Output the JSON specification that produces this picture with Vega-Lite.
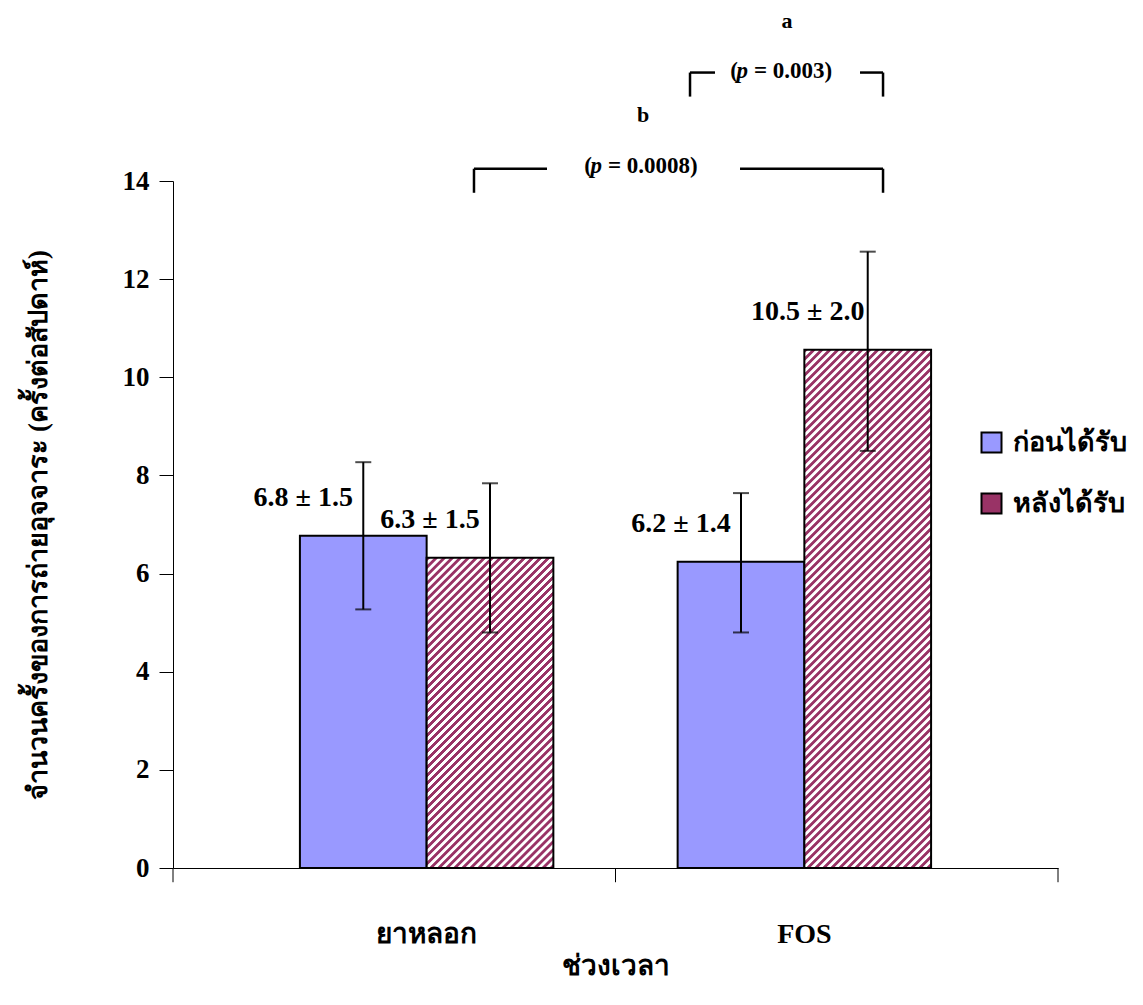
{
"$schema":"https://vega.github.io/schema/vega-lite/v6.json",
"width":885,"height":687,
"autosize":"none",
"padding":{"left":173,"top":181,"right":85,"bottom":137},
"background":"white",
"config":{"font":"Liberation Serif, Norasi, Kinnari, serif","view":{"stroke":null},
"axis":{"domainColor":"black","tickColor":"black","labelColor":"black","titleColor":"black","labelFont":"Liberation Serif, Norasi, Kinnari, serif","titleFont":"Liberation Serif, Norasi, Kinnari, serif","labelFontWeight":"bold","titleFontWeight":"bold","grid":false}},
"datasets":{
"bars":[
{"group":"ยาหลอก","series":"ก่อนได้รับ","mean":6.77,"lo":5.27,"hi":8.27,"label":"6.8 ± 1.5"},
{"group":"ยาหลอก","series":"หลังได้รับ","mean":6.32,"lo":4.8,"hi":7.84,"label":"6.3 ± 1.5"},
{"group":"FOS","series":"ก่อนได้รับ","mean":6.24,"lo":4.8,"hi":7.64,"label":"6.2 ± 1.4"},
{"group":"FOS","series":"หลังได้รับ","mean":10.56,"lo":8.5,"hi":12.56,"label":"10.5 ± 2.0"}
],
"brackets":[
{"x":58.42,"x2":61.24,"y":16.21,"y2":16.21},
{"x":58.42,"x2":58.42,"y":16.21,"y2":15.72},
{"x":77.63,"x2":80.23,"y":16.21,"y2":16.21},
{"x":80.23,"x2":80.23,"y":16.21,"y2":15.72},
{"x":34.01,"x2":42.26,"y":14.25,"y2":14.25},
{"x":34.01,"x2":34.01,"y":14.25,"y2":13.76},
{"x":64.07,"x2":80.23,"y":14.25,"y2":14.25},
{"x":80.23,"x2":80.23,"y":14.25,"y2":13.76}
],
"xticks":[{"x":0,"y":0,"y2":-0.29},{"x":50,"y":0,"y2":-0.29},{"x":100,"y":0,"y2":-0.29}],
"letters":[{"x":69.38,"y":17.12,"t":"a"},{"x":53.11,"y":15.21,"t":"b"}],
"pvals":[{"x":64.97,"y":16.1,"rest":"= 0.003)"},{"x":48.47,"y":14.17,"rest":"= 0.0008)"}]
},
"layer":[
{"data":{"name":"bars"},
"encoding":{
"x":{"field":"group","type":"nominal","sort":["ยาหลอก","FOS"],"scale":{"type":"band","paddingInner":0.329,"paddingOuter":0.336},
"axis":{"title":"ช่วงเวลา","ticks":false,"labelAngle":0,"labelFontSize":28,"labelPadding":52,"titleFontSize":28,"titlePadding":4,"domainWidth":1}},
"xOffset":{"field":"series","type":"nominal","sort":["ก่อนได้รับ","หลังได้รับ"]}
},
"layer":[
{"mark":{"type":"bar","stroke":"black","strokeWidth":2},
"encoding":{
"y":{"field":"mean","type":"quantitative","scale":{"domain":[0,14]},"title":"จำนวนครั้งของการถ่ายอุจจาระ (ครั้งต่อสัปดาห์)",
"axis":{"title":"จำนวนครั้งของการถ่ายอุจจาระ (ครั้งต่อสัปดาห์)","values":[0,2,4,6,8,10,12,14],"tickSize":14,"labelFontSize":27,"labelPadding":10,"titleFontSize":27,"titlePadding":70,"domainWidth":1,"tickWidth":1}},
"fill":{"field":"series","type":"nominal","scale":{"domain":["ก่อนได้รับ","หลังได้รับ"],"range":["#9999FF","#993366"]},
"legend":{"title":null,"orient":"none","legendX":805,"legendY":248,"symbolType":"square","symbolSize":400,"symbolStrokeColor":"black","symbolStrokeWidth":2,"symbolOpacity":1,"labelFontSize":27,"labelFontWeight":"bold","labelFont":"Liberation Serif, Norasi, Kinnari, serif","labelOffset":8,"rowPadding":32,"labelColor":"black"},
"condition":[
{"test":"datum.series === 'หลังได้รับ' && datum.group === 'ยาหลอก'","value":{"gradient":"linear","x1":0,"y1":0,"x2":0.9053,"y2":2.215,"stops":[
{"offset":0.00,"color":"#936"},{"offset":0.004,"color":"#936"},{"offset":0.005,"color":"#fff"},{"offset":0.009,"color":"#fff"},
{"offset":0.01,"color":"#936"},{"offset":0.014,"color":"#936"},{"offset":0.015,"color":"#fff"},{"offset":0.019,"color":"#fff"},
{"offset":0.02,"color":"#936"},{"offset":0.024,"color":"#936"},{"offset":0.025,"color":"#fff"},{"offset":0.029,"color":"#fff"},
{"offset":0.03,"color":"#936"},{"offset":0.034,"color":"#936"},{"offset":0.035,"color":"#fff"},{"offset":0.039,"color":"#fff"},
{"offset":0.04,"color":"#936"},{"offset":0.044,"color":"#936"},{"offset":0.045,"color":"#fff"},{"offset":0.049,"color":"#fff"},
{"offset":0.05,"color":"#936"},{"offset":0.054,"color":"#936"},{"offset":0.055,"color":"#fff"},{"offset":0.059,"color":"#fff"},
{"offset":0.06,"color":"#936"},{"offset":0.064,"color":"#936"},{"offset":0.065,"color":"#fff"},{"offset":0.069,"color":"#fff"},
{"offset":0.07,"color":"#936"},{"offset":0.074,"color":"#936"},{"offset":0.075,"color":"#fff"},{"offset":0.079,"color":"#fff"},
{"offset":0.08,"color":"#936"},{"offset":0.084,"color":"#936"},{"offset":0.085,"color":"#fff"},{"offset":0.089,"color":"#fff"},
{"offset":0.09,"color":"#936"},{"offset":0.094,"color":"#936"},{"offset":0.095,"color":"#fff"},{"offset":0.099,"color":"#fff"},
{"offset":0.10,"color":"#936"},{"offset":0.104,"color":"#936"},{"offset":0.105,"color":"#fff"},{"offset":0.109,"color":"#fff"},
{"offset":0.11,"color":"#936"},{"offset":0.114,"color":"#936"},{"offset":0.115,"color":"#fff"},{"offset":0.119,"color":"#fff"},
{"offset":0.12,"color":"#936"},{"offset":0.124,"color":"#936"},{"offset":0.125,"color":"#fff"},{"offset":0.129,"color":"#fff"},
{"offset":0.13,"color":"#936"},{"offset":0.134,"color":"#936"},{"offset":0.135,"color":"#fff"},{"offset":0.139,"color":"#fff"},
{"offset":0.14,"color":"#936"},{"offset":0.144,"color":"#936"},{"offset":0.145,"color":"#fff"},{"offset":0.149,"color":"#fff"},
{"offset":0.15,"color":"#936"},{"offset":0.154,"color":"#936"},{"offset":0.155,"color":"#fff"},{"offset":0.159,"color":"#fff"},
{"offset":0.16,"color":"#936"},{"offset":0.164,"color":"#936"},{"offset":0.165,"color":"#fff"},{"offset":0.169,"color":"#fff"},
{"offset":0.17,"color":"#936"},{"offset":0.174,"color":"#936"},{"offset":0.175,"color":"#fff"},{"offset":0.179,"color":"#fff"},
{"offset":0.18,"color":"#936"},{"offset":0.184,"color":"#936"},{"offset":0.185,"color":"#fff"},{"offset":0.189,"color":"#fff"},
{"offset":0.19,"color":"#936"},{"offset":0.194,"color":"#936"},{"offset":0.195,"color":"#fff"},{"offset":0.199,"color":"#fff"},
{"offset":0.20,"color":"#936"},{"offset":0.204,"color":"#936"},{"offset":0.205,"color":"#fff"},{"offset":0.209,"color":"#fff"},
{"offset":0.21,"color":"#936"},{"offset":0.214,"color":"#936"},{"offset":0.215,"color":"#fff"},{"offset":0.219,"color":"#fff"},
{"offset":0.22,"color":"#936"},{"offset":0.224,"color":"#936"},{"offset":0.225,"color":"#fff"},{"offset":0.229,"color":"#fff"},
{"offset":0.23,"color":"#936"},{"offset":0.234,"color":"#936"},{"offset":0.235,"color":"#fff"},{"offset":0.239,"color":"#fff"},
{"offset":0.24,"color":"#936"},{"offset":0.244,"color":"#936"},{"offset":0.245,"color":"#fff"},{"offset":0.249,"color":"#fff"},
{"offset":0.25,"color":"#936"},{"offset":0.254,"color":"#936"},{"offset":0.255,"color":"#fff"},{"offset":0.259,"color":"#fff"},
{"offset":0.26,"color":"#936"},{"offset":0.264,"color":"#936"},{"offset":0.265,"color":"#fff"},{"offset":0.269,"color":"#fff"},
{"offset":0.27,"color":"#936"},{"offset":0.274,"color":"#936"},{"offset":0.275,"color":"#fff"},{"offset":0.279,"color":"#fff"},
{"offset":0.28,"color":"#936"},{"offset":0.284,"color":"#936"},{"offset":0.285,"color":"#fff"},{"offset":0.289,"color":"#fff"},
{"offset":0.29,"color":"#936"},{"offset":0.294,"color":"#936"},{"offset":0.295,"color":"#fff"},{"offset":0.299,"color":"#fff"},
{"offset":0.30,"color":"#936"},{"offset":0.304,"color":"#936"},{"offset":0.305,"color":"#fff"},{"offset":0.309,"color":"#fff"},
{"offset":0.31,"color":"#936"},{"offset":0.314,"color":"#936"},{"offset":0.315,"color":"#fff"},{"offset":0.319,"color":"#fff"},
{"offset":0.32,"color":"#936"},{"offset":0.324,"color":"#936"},{"offset":0.325,"color":"#fff"},{"offset":0.329,"color":"#fff"},
{"offset":0.33,"color":"#936"},{"offset":0.334,"color":"#936"},{"offset":0.335,"color":"#fff"},{"offset":0.339,"color":"#fff"},
{"offset":0.34,"color":"#936"},{"offset":0.344,"color":"#936"},{"offset":0.345,"color":"#fff"},{"offset":0.349,"color":"#fff"},
{"offset":0.35,"color":"#936"},{"offset":0.354,"color":"#936"},{"offset":0.355,"color":"#fff"},{"offset":0.359,"color":"#fff"},
{"offset":0.36,"color":"#936"},{"offset":0.364,"color":"#936"},{"offset":0.365,"color":"#fff"},{"offset":0.369,"color":"#fff"},
{"offset":0.37,"color":"#936"},{"offset":0.374,"color":"#936"},{"offset":0.375,"color":"#fff"},{"offset":0.379,"color":"#fff"},
{"offset":0.38,"color":"#936"},{"offset":0.384,"color":"#936"},{"offset":0.385,"color":"#fff"},{"offset":0.389,"color":"#fff"},
{"offset":0.39,"color":"#936"},{"offset":0.394,"color":"#936"},{"offset":0.395,"color":"#fff"},{"offset":0.399,"color":"#fff"},
{"offset":0.40,"color":"#936"},{"offset":0.404,"color":"#936"},{"offset":0.405,"color":"#fff"},{"offset":0.409,"color":"#fff"},
{"offset":0.41,"color":"#936"},{"offset":0.414,"color":"#936"},{"offset":0.415,"color":"#fff"},{"offset":0.419,"color":"#fff"},
{"offset":0.42,"color":"#936"},{"offset":0.424,"color":"#936"},{"offset":0.425,"color":"#fff"},{"offset":0.429,"color":"#fff"},
{"offset":0.43,"color":"#936"},{"offset":0.434,"color":"#936"},{"offset":0.435,"color":"#fff"},{"offset":0.439,"color":"#fff"},
{"offset":0.44,"color":"#936"},{"offset":0.444,"color":"#936"},{"offset":0.445,"color":"#fff"},{"offset":0.449,"color":"#fff"},
{"offset":0.45,"color":"#936"},{"offset":0.454,"color":"#936"},{"offset":0.455,"color":"#fff"},{"offset":0.459,"color":"#fff"},
{"offset":0.46,"color":"#936"},{"offset":0.464,"color":"#936"},{"offset":0.465,"color":"#fff"},{"offset":0.469,"color":"#fff"},
{"offset":0.47,"color":"#936"},{"offset":0.474,"color":"#936"},{"offset":0.475,"color":"#fff"},{"offset":0.479,"color":"#fff"},
{"offset":0.48,"color":"#936"},{"offset":0.484,"color":"#936"},{"offset":0.485,"color":"#fff"},{"offset":0.489,"color":"#fff"},
{"offset":0.49,"color":"#936"},{"offset":0.494,"color":"#936"},{"offset":0.495,"color":"#fff"},{"offset":0.499,"color":"#fff"},
{"offset":0.50,"color":"#936"},{"offset":0.504,"color":"#936"},{"offset":0.505,"color":"#fff"},{"offset":0.509,"color":"#fff"},
{"offset":0.51,"color":"#936"},{"offset":0.514,"color":"#936"},{"offset":0.515,"color":"#fff"},{"offset":0.519,"color":"#fff"},
{"offset":0.52,"color":"#936"},{"offset":0.524,"color":"#936"},{"offset":0.525,"color":"#fff"},{"offset":0.529,"color":"#fff"},
{"offset":0.53,"color":"#936"},{"offset":0.534,"color":"#936"},{"offset":0.535,"color":"#fff"},{"offset":0.539,"color":"#fff"},
{"offset":0.54,"color":"#936"},{"offset":0.544,"color":"#936"},{"offset":0.545,"color":"#fff"},{"offset":0.549,"color":"#fff"},
{"offset":0.55,"color":"#936"}
]}},
{"test":"datum.series === 'หลังได้รับ' && datum.group === 'FOS'","value":{"gradient":"linear","x1":0,"y1":0,"x2":0.3563,"y2":1.4567,"stops":[
{"offset":0.00,"color":"#936"},{"offset":0.004,"color":"#936"},{"offset":0.005,"color":"#fff"},{"offset":0.009,"color":"#fff"},
{"offset":0.01,"color":"#936"},{"offset":0.014,"color":"#936"},{"offset":0.015,"color":"#fff"},{"offset":0.019,"color":"#fff"},
{"offset":0.02,"color":"#936"},{"offset":0.024,"color":"#936"},{"offset":0.025,"color":"#fff"},{"offset":0.029,"color":"#fff"},
{"offset":0.03,"color":"#936"},{"offset":0.034,"color":"#936"},{"offset":0.035,"color":"#fff"},{"offset":0.039,"color":"#fff"},
{"offset":0.04,"color":"#936"},{"offset":0.044,"color":"#936"},{"offset":0.045,"color":"#fff"},{"offset":0.049,"color":"#fff"},
{"offset":0.05,"color":"#936"},{"offset":0.054,"color":"#936"},{"offset":0.055,"color":"#fff"},{"offset":0.059,"color":"#fff"},
{"offset":0.06,"color":"#936"},{"offset":0.064,"color":"#936"},{"offset":0.065,"color":"#fff"},{"offset":0.069,"color":"#fff"},
{"offset":0.07,"color":"#936"},{"offset":0.074,"color":"#936"},{"offset":0.075,"color":"#fff"},{"offset":0.079,"color":"#fff"},
{"offset":0.08,"color":"#936"},{"offset":0.084,"color":"#936"},{"offset":0.085,"color":"#fff"},{"offset":0.089,"color":"#fff"},
{"offset":0.09,"color":"#936"},{"offset":0.094,"color":"#936"},{"offset":0.095,"color":"#fff"},{"offset":0.099,"color":"#fff"},
{"offset":0.10,"color":"#936"},{"offset":0.104,"color":"#936"},{"offset":0.105,"color":"#fff"},{"offset":0.109,"color":"#fff"},
{"offset":0.11,"color":"#936"},{"offset":0.114,"color":"#936"},{"offset":0.115,"color":"#fff"},{"offset":0.119,"color":"#fff"},
{"offset":0.12,"color":"#936"},{"offset":0.124,"color":"#936"},{"offset":0.125,"color":"#fff"},{"offset":0.129,"color":"#fff"},
{"offset":0.13,"color":"#936"},{"offset":0.134,"color":"#936"},{"offset":0.135,"color":"#fff"},{"offset":0.139,"color":"#fff"},
{"offset":0.14,"color":"#936"},{"offset":0.144,"color":"#936"},{"offset":0.145,"color":"#fff"},{"offset":0.149,"color":"#fff"},
{"offset":0.15,"color":"#936"},{"offset":0.154,"color":"#936"},{"offset":0.155,"color":"#fff"},{"offset":0.159,"color":"#fff"},
{"offset":0.16,"color":"#936"},{"offset":0.164,"color":"#936"},{"offset":0.165,"color":"#fff"},{"offset":0.169,"color":"#fff"},
{"offset":0.17,"color":"#936"},{"offset":0.174,"color":"#936"},{"offset":0.175,"color":"#fff"},{"offset":0.179,"color":"#fff"},
{"offset":0.18,"color":"#936"},{"offset":0.184,"color":"#936"},{"offset":0.185,"color":"#fff"},{"offset":0.189,"color":"#fff"},
{"offset":0.19,"color":"#936"},{"offset":0.194,"color":"#936"},{"offset":0.195,"color":"#fff"},{"offset":0.199,"color":"#fff"},
{"offset":0.20,"color":"#936"},{"offset":0.204,"color":"#936"},{"offset":0.205,"color":"#fff"},{"offset":0.209,"color":"#fff"},
{"offset":0.21,"color":"#936"},{"offset":0.214,"color":"#936"},{"offset":0.215,"color":"#fff"},{"offset":0.219,"color":"#fff"},
{"offset":0.22,"color":"#936"},{"offset":0.224,"color":"#936"},{"offset":0.225,"color":"#fff"},{"offset":0.229,"color":"#fff"},
{"offset":0.23,"color":"#936"},{"offset":0.234,"color":"#936"},{"offset":0.235,"color":"#fff"},{"offset":0.239,"color":"#fff"},
{"offset":0.24,"color":"#936"},{"offset":0.244,"color":"#936"},{"offset":0.245,"color":"#fff"},{"offset":0.249,"color":"#fff"},
{"offset":0.25,"color":"#936"},{"offset":0.254,"color":"#936"},{"offset":0.255,"color":"#fff"},{"offset":0.259,"color":"#fff"},
{"offset":0.26,"color":"#936"},{"offset":0.264,"color":"#936"},{"offset":0.265,"color":"#fff"},{"offset":0.269,"color":"#fff"},
{"offset":0.27,"color":"#936"},{"offset":0.274,"color":"#936"},{"offset":0.275,"color":"#fff"},{"offset":0.279,"color":"#fff"},
{"offset":0.28,"color":"#936"},{"offset":0.284,"color":"#936"},{"offset":0.285,"color":"#fff"},{"offset":0.289,"color":"#fff"},
{"offset":0.29,"color":"#936"},{"offset":0.294,"color":"#936"},{"offset":0.295,"color":"#fff"},{"offset":0.299,"color":"#fff"},
{"offset":0.30,"color":"#936"},{"offset":0.304,"color":"#936"},{"offset":0.305,"color":"#fff"},{"offset":0.309,"color":"#fff"},
{"offset":0.31,"color":"#936"},{"offset":0.314,"color":"#936"},{"offset":0.315,"color":"#fff"},{"offset":0.319,"color":"#fff"},
{"offset":0.32,"color":"#936"},{"offset":0.324,"color":"#936"},{"offset":0.325,"color":"#fff"},{"offset":0.329,"color":"#fff"},
{"offset":0.33,"color":"#936"},{"offset":0.334,"color":"#936"},{"offset":0.335,"color":"#fff"},{"offset":0.339,"color":"#fff"},
{"offset":0.34,"color":"#936"},{"offset":0.344,"color":"#936"},{"offset":0.345,"color":"#fff"},{"offset":0.349,"color":"#fff"},
{"offset":0.35,"color":"#936"},{"offset":0.354,"color":"#936"},{"offset":0.355,"color":"#fff"},{"offset":0.359,"color":"#fff"},
{"offset":0.36,"color":"#936"},{"offset":0.364,"color":"#936"},{"offset":0.365,"color":"#fff"},{"offset":0.369,"color":"#fff"},
{"offset":0.37,"color":"#936"},{"offset":0.374,"color":"#936"},{"offset":0.375,"color":"#fff"},{"offset":0.379,"color":"#fff"},
{"offset":0.38,"color":"#936"},{"offset":0.384,"color":"#936"},{"offset":0.385,"color":"#fff"},{"offset":0.389,"color":"#fff"},
{"offset":0.39,"color":"#936"},{"offset":0.394,"color":"#936"},{"offset":0.395,"color":"#fff"},{"offset":0.399,"color":"#fff"},
{"offset":0.40,"color":"#936"},{"offset":0.404,"color":"#936"},{"offset":0.405,"color":"#fff"},{"offset":0.409,"color":"#fff"},
{"offset":0.41,"color":"#936"},{"offset":0.414,"color":"#936"},{"offset":0.415,"color":"#fff"},{"offset":0.419,"color":"#fff"},
{"offset":0.42,"color":"#936"},{"offset":0.424,"color":"#936"},{"offset":0.425,"color":"#fff"},{"offset":0.429,"color":"#fff"},
{"offset":0.43,"color":"#936"},{"offset":0.434,"color":"#936"},{"offset":0.435,"color":"#fff"},{"offset":0.439,"color":"#fff"},
{"offset":0.44,"color":"#936"},{"offset":0.444,"color":"#936"},{"offset":0.445,"color":"#fff"},{"offset":0.449,"color":"#fff"},
{"offset":0.45,"color":"#936"},{"offset":0.454,"color":"#936"},{"offset":0.455,"color":"#fff"},{"offset":0.459,"color":"#fff"},
{"offset":0.46,"color":"#936"},{"offset":0.464,"color":"#936"},{"offset":0.465,"color":"#fff"},{"offset":0.469,"color":"#fff"},
{"offset":0.47,"color":"#936"},{"offset":0.474,"color":"#936"},{"offset":0.475,"color":"#fff"},{"offset":0.479,"color":"#fff"},
{"offset":0.48,"color":"#936"},{"offset":0.484,"color":"#936"},{"offset":0.485,"color":"#fff"},{"offset":0.489,"color":"#fff"},
{"offset":0.49,"color":"#936"},{"offset":0.494,"color":"#936"},{"offset":0.495,"color":"#fff"},{"offset":0.499,"color":"#fff"},
{"offset":0.50,"color":"#936"},{"offset":0.504,"color":"#936"},{"offset":0.505,"color":"#fff"},{"offset":0.509,"color":"#fff"},
{"offset":0.51,"color":"#936"},{"offset":0.514,"color":"#936"},{"offset":0.515,"color":"#fff"},{"offset":0.519,"color":"#fff"},
{"offset":0.52,"color":"#936"},{"offset":0.524,"color":"#936"},{"offset":0.525,"color":"#fff"},{"offset":0.529,"color":"#fff"},
{"offset":0.53,"color":"#936"},{"offset":0.534,"color":"#936"},{"offset":0.535,"color":"#fff"},{"offset":0.539,"color":"#fff"},
{"offset":0.54,"color":"#936"},{"offset":0.544,"color":"#936"},{"offset":0.545,"color":"#fff"},{"offset":0.549,"color":"#fff"},
{"offset":0.55,"color":"#936"},{"offset":0.554,"color":"#936"},{"offset":0.555,"color":"#fff"},{"offset":0.559,"color":"#fff"},
{"offset":0.56,"color":"#936"},{"offset":0.564,"color":"#936"},{"offset":0.565,"color":"#fff"},{"offset":0.569,"color":"#fff"},
{"offset":0.57,"color":"#936"},{"offset":0.574,"color":"#936"},{"offset":0.575,"color":"#fff"},{"offset":0.579,"color":"#fff"},
{"offset":0.58,"color":"#936"},{"offset":0.584,"color":"#936"},{"offset":0.585,"color":"#fff"},{"offset":0.589,"color":"#fff"},
{"offset":0.59,"color":"#936"},{"offset":0.594,"color":"#936"},{"offset":0.595,"color":"#fff"},{"offset":0.599,"color":"#fff"},
{"offset":0.60,"color":"#936"},{"offset":0.604,"color":"#936"},{"offset":0.605,"color":"#fff"},{"offset":0.609,"color":"#fff"},
{"offset":0.61,"color":"#936"},{"offset":0.614,"color":"#936"},{"offset":0.615,"color":"#fff"},{"offset":0.619,"color":"#fff"},
{"offset":0.62,"color":"#936"},{"offset":0.624,"color":"#936"},{"offset":0.625,"color":"#fff"},{"offset":0.629,"color":"#fff"},
{"offset":0.63,"color":"#936"},{"offset":0.634,"color":"#936"},{"offset":0.635,"color":"#fff"},{"offset":0.639,"color":"#fff"},
{"offset":0.64,"color":"#936"},{"offset":0.644,"color":"#936"},{"offset":0.645,"color":"#fff"},{"offset":0.649,"color":"#fff"},
{"offset":0.65,"color":"#936"},{"offset":0.654,"color":"#936"},{"offset":0.655,"color":"#fff"},{"offset":0.659,"color":"#fff"},
{"offset":0.66,"color":"#936"},{"offset":0.664,"color":"#936"},{"offset":0.665,"color":"#fff"},{"offset":0.669,"color":"#fff"},
{"offset":0.67,"color":"#936"},{"offset":0.674,"color":"#936"},{"offset":0.675,"color":"#fff"},{"offset":0.679,"color":"#fff"},
{"offset":0.68,"color":"#936"},{"offset":0.684,"color":"#936"},{"offset":0.685,"color":"#fff"},{"offset":0.689,"color":"#fff"},
{"offset":0.69,"color":"#936"},{"offset":0.694,"color":"#936"},{"offset":0.695,"color":"#fff"},{"offset":0.699,"color":"#fff"},
{"offset":0.70,"color":"#936"},{"offset":0.704,"color":"#936"},{"offset":0.705,"color":"#fff"},{"offset":0.709,"color":"#fff"},
{"offset":0.71,"color":"#936"},{"offset":0.714,"color":"#936"},{"offset":0.715,"color":"#fff"},{"offset":0.719,"color":"#fff"},
{"offset":0.72,"color":"#936"},{"offset":0.724,"color":"#936"},{"offset":0.725,"color":"#fff"},{"offset":0.729,"color":"#fff"},
{"offset":0.73,"color":"#936"},{"offset":0.734,"color":"#936"},{"offset":0.735,"color":"#fff"},{"offset":0.739,"color":"#fff"},
{"offset":0.74,"color":"#936"},{"offset":0.744,"color":"#936"},{"offset":0.745,"color":"#fff"},{"offset":0.749,"color":"#fff"},
{"offset":0.75,"color":"#936"},{"offset":0.754,"color":"#936"},{"offset":0.755,"color":"#fff"},{"offset":0.759,"color":"#fff"},
{"offset":0.76,"color":"#936"},{"offset":0.764,"color":"#936"},{"offset":0.765,"color":"#fff"},{"offset":0.769,"color":"#fff"},
{"offset":0.77,"color":"#936"},{"offset":0.774,"color":"#936"},{"offset":0.775,"color":"#fff"},{"offset":0.779,"color":"#fff"},
{"offset":0.78,"color":"#936"},{"offset":0.784,"color":"#936"},{"offset":0.785,"color":"#fff"},{"offset":0.789,"color":"#fff"},
{"offset":0.79,"color":"#936"},{"offset":0.794,"color":"#936"},{"offset":0.795,"color":"#fff"},{"offset":0.799,"color":"#fff"},
{"offset":0.80,"color":"#936"},{"offset":0.804,"color":"#936"},{"offset":0.805,"color":"#fff"},{"offset":0.809,"color":"#fff"},
{"offset":0.81,"color":"#936"}
]}}
]}
}},
{"mark":{"type":"rule","strokeWidth":2,"color":"black"},
"encoding":{"y":{"field":"lo","type":"quantitative","scale":{"domain":[0,14]},"title":"จำนวนครั้งของการถ่ายอุจจาระ (ครั้งต่อสัปดาห์)"},"y2":{"field":"hi"}}},
{"mark":{"type":"tick","size":16,"thickness":2,"color":"black","orient":"horizontal"},
"encoding":{"y":{"field":"lo","type":"quantitative","scale":{"domain":[0,14]},"title":"จำนวนครั้งของการถ่ายอุจจาระ (ครั้งต่อสัปดาห์)"}}},
{"mark":{"type":"tick","size":16,"thickness":2,"color":"black","orient":"horizontal"},
"encoding":{"y":{"field":"hi","type":"quantitative","scale":{"domain":[0,14]},"title":"จำนวนครั้งของการถ่ายอุจจาระ (ครั้งต่อสัปดาห์)"}}},
{"mark":{"type":"text","font":"Liberation Serif","fontSize":28,"fontWeight":"bold","dx":-60,"dy":-38,"color":"black","baseline":"middle"},
"encoding":{"y":{"field":"mean","type":"quantitative","scale":{"domain":[0,14]},"title":"จำนวนครั้งของการถ่ายอุจจาระ (ครั้งต่อสัปดาห์)"},"text":{"field":"label"}}}
]
},
{"data":{"name":"brackets"},
"mark":{"type":"rule","strokeWidth":2.5,"color":"black"},
"encoding":{
"x":{"field":"x","type":"quantitative","scale":{"domain":[0,100],"nice":false,"zero":false},"axis":null},
"x2":{"field":"x2"},
"y":{"field":"y","type":"quantitative","scale":{"domain":[0,14]},"title":"จำนวนครั้งของการถ่ายอุจจาระ (ครั้งต่อสัปดาห์)"},
"y2":{"field":"y2"}}},
{"data":{"name":"xticks"},
"mark":{"type":"rule","strokeWidth":1,"color":"black"},
"encoding":{
"x":{"field":"x","type":"quantitative","scale":{"domain":[0,100],"nice":false,"zero":false},"axis":null},
"y":{"field":"y","type":"quantitative","scale":{"domain":[0,14]},"title":"จำนวนครั้งของการถ่ายอุจจาระ (ครั้งต่อสัปดาห์)"},
"y2":{"field":"y2"}}},
{"data":{"name":"letters"},
"mark":{"type":"text","font":"Liberation Serif","fontSize":22,"fontWeight":"bold","align":"center","baseline":"alphabetic","color":"black"},
"encoding":{
"x":{"field":"x","type":"quantitative","scale":{"domain":[0,100],"nice":false,"zero":false},"axis":null},
"y":{"field":"y","type":"quantitative","scale":{"domain":[0,14]},"title":"จำนวนครั้งของการถ่ายอุจจาระ (ครั้งต่อสัปดาห์)"},
"text":{"field":"t"}}},
{"data":{"name":"pvals"},
"mark":{"type":"text","font":"Liberation Serif","fontSize":23,"fontWeight":"bold","align":"right","baseline":"alphabetic","dx":-10,"color":"black"},
"encoding":{
"x":{"field":"x","type":"quantitative","scale":{"domain":[0,100],"nice":false,"zero":false},"axis":null},
"y":{"field":"y","type":"quantitative","scale":{"domain":[0,14]},"title":"จำนวนครั้งของการถ่ายอุจจาระ (ครั้งต่อสัปดาห์)"},
"text":{"value":"("}}},
{"data":{"name":"pvals"},
"mark":{"type":"text","font":"Liberation Serif","fontSize":23,"fontWeight":"bold","fontStyle":"italic","align":"right","baseline":"alphabetic","color":"black"},
"encoding":{
"x":{"field":"x","type":"quantitative","scale":{"domain":[0,100],"nice":false,"zero":false},"axis":null},
"y":{"field":"y","type":"quantitative","scale":{"domain":[0,14]},"title":"จำนวนครั้งของการถ่ายอุจจาระ (ครั้งต่อสัปดาห์)"},
"text":{"value":"p"}}},
{"data":{"name":"pvals"},
"mark":{"type":"text","font":"Liberation Serif","fontSize":23,"fontWeight":"bold","align":"left","baseline":"alphabetic","dx":6,"color":"black"},
"encoding":{
"x":{"field":"x","type":"quantitative","scale":{"domain":[0,100],"nice":false,"zero":false},"axis":null},
"y":{"field":"y","type":"quantitative","scale":{"domain":[0,14]},"title":"จำนวนครั้งของการถ่ายอุจจาระ (ครั้งต่อสัปดาห์)"},
"text":{"field":"rest"}}}
],
"resolve":{"scale":{"x":"independent"}}
}
